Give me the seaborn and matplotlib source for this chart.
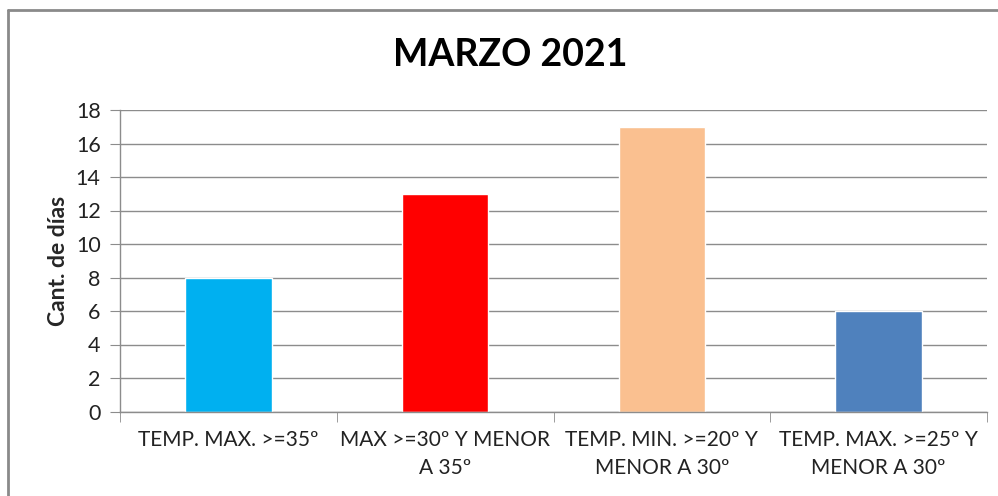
import numpy as np
import pandas as pd
import seaborn as sns
import matplotlib.pyplot as plt
from matplotlib.lines import Line2D

# Datos
categorias = ['TEMP. MAX. >=35º', 'MAX >=30º Y MENOR\nA 35º',
              'TEMP. MIN. >=20º Y\nMENOR A 30º', 'TEMP. MAX. >=25º Y\nMENOR A 30º']
dias = [8, 13, 17, 6]
colores = ['#00B0F0', '#FF0000', '#FAC090', '#4F81BD']

df = pd.DataFrame({'cat': categorias, 'dias': dias})

sns.set_style('white')
plt.rcParams['font.family'] = ['Lato', 'DejaVu Sans']

fig = plt.figure(figsize=(9.98, 4.96), dpi=100)
ax = fig.add_axes([120 / 998, 1 - 411.5 / 496, 867 / 998, 301.5 / 496])

sns.barplot(data=df, x='cat', y='dias', hue='cat', palette=colores,
            width=0.4, saturation=1, legend=False, ax=ax)

ax.set_xlim(-0.5, 3.5)
ax.set_ylim(0, 18)
ax.set_yticks(range(0, 19, 2))
ax.yaxis.grid(True, color='#8c8c8c', linewidth=1)
ax.set_axisbelow(True)

for s in ['top', 'right']:
    ax.spines[s].set_visible(False)
for s in ['left', 'bottom']:
    ax.spines[s].set_color('#8c8c8c')
    ax.spines[s].set_linewidth(1)

ax.tick_params(axis='y', length=7, color='#8c8c8c', labelsize=15.5,
               labelcolor='#222222', pad=7, left=True)
ax.tick_params(axis='x', which='major', length=0, labelsize=15,
               labelcolor='#222222', pad=13)
ax.set_xticks(np.arange(-0.5, 4, 1), minor=True)
ax.tick_params(axis='x', which='minor', length=7, color='#8c8c8c', bottom=True)
for t in ax.get_xticklabels():
    t.set_linespacing(1.55)

ax.set_xlabel('')
ax.set_ylabel('Cant. de días', fontsize=16.5, fontweight='bold', labelpad=5)

fig.text(0.511, 0.89, 'MARZO 2021', ha='center', va='center',
         fontsize=27, fontweight='bold', color='black')

# marco del grafico
fig.add_artist(Line2D([8 / 998, 8 / 998], [0, 1 - 10 / 496],
                      transform=fig.transFigure, color='#8a8a8a', linewidth=2))
fig.add_artist(Line2D([8 / 998, 1], [1 - 10 / 496, 1 - 10 / 496],
                      transform=fig.transFigure, color='#8a8a8a', linewidth=2))

fig.savefig('out.png', dpi=100)
